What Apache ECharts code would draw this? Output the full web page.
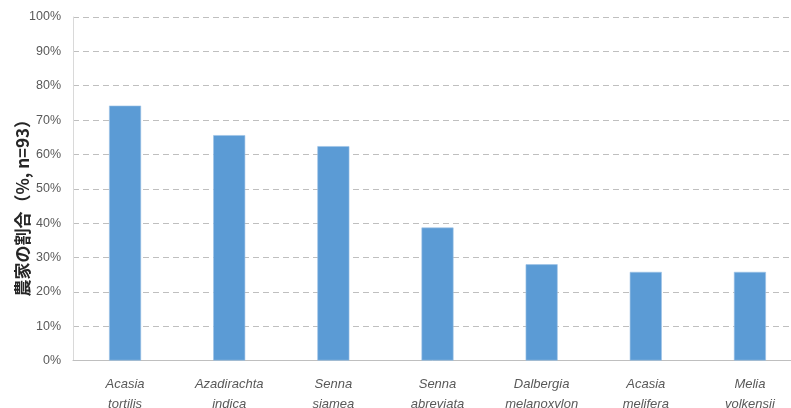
<!DOCTYPE html>
<html>
<head>
<meta charset="utf-8">
<script src="https://cdn.jsdelivr.net/npm/echarts@6/dist/echarts.min.js"></script>
<style>html,body{margin:0;padding:0;background:#fff;}#c{width:791px;height:408px;}</style>
</head>
<body>
<div id="c"></div>
<script>
var categories = ['Acasia\ntortilis', 'Azadirachta\nindica', 'Senna\nsiamea', 'Senna\nabreviata', 'Dalbergia\nmelanoxylon', 'Acasia\nmelifera', 'Melia\nvolkensii'];
var values = [74.2, 65.6, 62.4, 38.7, 28.0, 25.8, 25.8];
var yTicks = [0, 10, 20, 30, 40, 50, 60, 70, 80, 90, 100];
var yTitle = '農家の割合（%, n=93）';

var chart = echarts.init(document.getElementById('c'), null, {renderer: 'canvas'});
chart.setOption({
  animation: false,
  backgroundColor: '#ffffff',
  grid: {left: 73, right: -11, top: 17, bottom: 47.5, containLabel: false, outerBoundsMode: 'none'},
  xAxis: {
    type: 'category',
    data: categories,
    axisTick: {show: false},
    axisLine: {lineStyle: {color: '#bfbfbf', width: 1}},
    axisLabel: {
      interval: 0, margin: 14, lineHeight: 20,
      fontStyle: 'italic', fontSize: 13, color: '#595959',
      fontFamily: '"Liberation Sans", Arial, sans-serif'
    }
  },
  yAxis: {
    type: 'value',
    min: yTicks[0], max: yTicks[yTicks.length - 1], interval: 10,
    name: yTitle,
    nameLocation: 'middle',
    nameGap: 42,
    nameMoveOverlap: false,
    nameTextStyle: {
      fontSize: 17, color: '#262626', fontWeight: 'bold',
      fontFamily: '"Noto Sans CJK JP", sans-serif',
      padding: [0, 30, 0, 0]
    },
    axisLine: {show: true, lineStyle: {color: '#d9d9d9', width: 1}},
    axisTick: {show: false},
    axisLabel: {
      margin: 12, fontSize: 12.5, color: '#595959',
      fontFamily: '"Liberation Sans", Arial, sans-serif',
      formatter: function (v) { return v + '%'; }
    },
    splitLine: {show: true, lineStyle: {color: '#bfbfbf', type: [6, 4], width: 1}}
  },
  series: [{
    type: 'bar',
    data: values,
    barWidth: 32,
    itemStyle: {color: '#5b9bd5', borderColor: '#9dc3e6', borderWidth: 0.6}
  }]
});
</script>
</body>
</html>
